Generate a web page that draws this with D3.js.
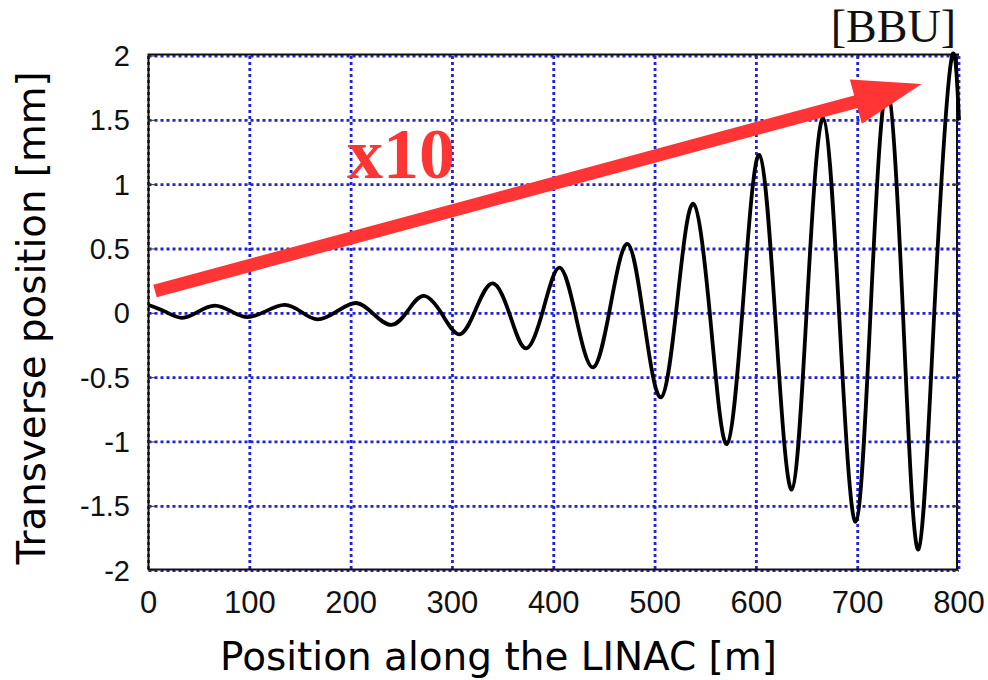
<!DOCTYPE html>
<html>
<head>
<meta charset="utf-8">
<script src="https://cdn.jsdelivr.net/npm/d3@7"></script>
<style>
  html, body { margin: 0; padding: 0; background: #fff; }
  svg { display: block; }
</style>
</head>
<body>
<svg id="chart" width="988" height="680"></svg>
<script>
// ---- data ----
const xTicks = [0, 100, 200, 300, 400, 500, 600, 700, 800];
const yTicks = [-2, -1.5, -1, -0.5, 0, 0.5, 1, 1.5, 2];
const yTickLabels = ["-2", "-1.5", "-1", "-0.5", "0", "0.5", "1", "1.5", "2"];
const xTickLabels = ["0", "100", "200", "300", "400", "500", "600", "700", "800"];

const posX = [0, 16, 33, 49, 65.5, 82, 98, 116, 134.5, 151, 167, 186, 205, 222, 240, 256,
              272, 290, 307, 323, 340, 357, 373, 390, 406, 422, 439, 456, 473, 489, 506, 522,
              538, 555, 571, 587, 603, 619, 635, 650, 666, 682, 698, 713, 729, 745, 760, 776,
              792, 800];
const posY = [0.065, 0.015, -0.035, 0.012, 0.06, 0.014, -0.03, 0.017, 0.065, 0.01, -0.047, 0.015,
              0.08, -0.005, -0.09, 0.02, 0.135, -0.01, -0.163, 0.03, 0.233, -0.02, -0.272, 0.04,
              0.355, -0.03, -0.42, 0.06, 0.539, -0.05, -0.653, 0.1, 0.85, -0.08, -1.016, 0.1,
              1.231, -0.07, -1.37, 0.07, 1.516, -0.05, -1.62, 0.06, 1.74, -0.05, -1.835, 0.07,
              1.95, 1.5];

const arrowStart = [6.4, 0.173];
const arrowTip = [763, 1.783];
const arrowLabel = "x10";
const arrowLabelPos = [196, 1.05];
const cornerLabel = "[BBU]";
const xTitle = "Position along the LINAC [m]";
const yTitle = "Transverse position [mm]";

// ---- layout ----
const svg = d3.select("#chart");
const x = d3.scaleLinear().domain([0, 800]).range([148.5, 959]);
const y = d3.scaleLinear().domain([-2, 2]).range([570.6, 56]);
const gridColor = "#2222dd";

// grid
const grid = svg.append("g");
grid.selectAll("line.v").data(xTicks).join("line")
  .attr("x1", d => x(d)).attr("x2", d => x(d))
  .attr("y1", y(2)).attr("y2", y(-2))
  .attr("stroke", gridColor).attr("stroke-width", 2.8)
  .attr("stroke-dasharray", "3,3");
grid.selectAll("line.h").data(yTicks).join("line")
  .attr("y1", d => y(d)).attr("y2", d => y(d))
  .attr("x1", x(0)).attr("x2", x(800))
  .attr("stroke", gridColor).attr("stroke-width", 2.8)
  .attr("stroke-dasharray", "3,3");

// frame
svg.append("path")
  .attr("d", `M${x(800)},${y(2)-1.5} H${x(0)} V${y(-2)-1} H${x(800)-2} V${y(2)-1.5}`)
  .attr("fill", "none").attr("stroke", "#111").attr("stroke-width", 2);

// small inner ticks
svg.append("g").selectAll("line").data(yTicks).join("line")
  .attr("x1", x(0)).attr("x2", x(0) + 7).attr("y1", d => y(d)).attr("y2", d => y(d))
  .attr("stroke", "#333").attr("stroke-width", 1);
svg.append("g").selectAll("line").data(yTicks).join("line")
  .attr("x1", x(800) - 7).attr("x2", x(800)).attr("y1", d => y(d)).attr("y2", d => y(d))
  .attr("stroke", "#333").attr("stroke-width", 1);

// tick labels
svg.append("g").selectAll("text").data(xTicks).join("text")
  .attr("x", d => x(d)).attr("y", 612.5)
  .attr("text-anchor", "middle")
  .attr("font-family", "Liberation Sans, Arial, sans-serif")
  .attr("font-size", 31).attr("fill", "#111")
  .text((d, i) => xTickLabels[i]);
svg.append("g").selectAll("text").data(yTicks).join("text")
  .attr("x", 130).attr("y", d => y(d))
  .attr("dy", "0.35em")
  .attr("text-anchor", "end")
  .attr("font-family", "Liberation Sans, Arial, sans-serif")
  .attr("font-size", 29).attr("fill", "#111")
  .text((d, i) => yTickLabels[i]);

// titles, fitted to the measured widths
function fitText(sel, target, start) {
  sel.attr("font-size", start);
  const len = sel.node().getComputedTextLength();
  sel.attr("font-size", start * target / len);
}
const xt = svg.append("text")
  .attr("x", 498.5).attr("y", 670).attr("text-anchor", "middle")
  .attr("font-family", "DejaVu Sans, sans-serif").attr("fill", "#000")
  .text(xTitle);
fitText(xt, 557, 36);
const yt = svg.append("text")
  .attr("transform", "translate(45,318) rotate(-90)").attr("text-anchor", "middle")
  .attr("font-family", "DejaVu Sans, sans-serif").attr("fill", "#000")
  .text(yTitle);
fitText(yt, 493, 36);

// curve
const line = d3.line()
  .x(d => x(d[0])).y(d => y(d[1]))
  .curve(d3.curveNatural);
svg.append("path")
  .datum(posX.map((v, i) => [v, posY[i]]))
  .attr("d", line)
  .attr("fill", "none").attr("stroke", "#000").attr("stroke-width", 3.8)
  .attr("stroke-linejoin", "round");

// red arrow
(function () {
  const sx = x(arrowStart[0]), sy = y(arrowStart[1]);
  const tx = x(arrowTip[0]), ty = y(arrowTip[1]);
  const dx = tx - sx, dy = ty - sy, L = Math.hypot(dx, dy);
  const ux = dx / L, uy = dy / L, nx = -uy, ny = ux;
  const shaftW = 13, headL = 68, headW = 46;
  const bx = tx - ux * headL, by = ty - uy * headL;
  const pts = [
    [sx + nx * shaftW / 2, sy + ny * shaftW / 2],
    [bx + nx * shaftW / 2, by + ny * shaftW / 2],
    [bx + nx * headW / 2, by + ny * headW / 2],
    [tx, ty],
    [bx - nx * headW / 2, by - ny * headW / 2],
    [bx - nx * shaftW / 2, by - ny * shaftW / 2],
    [sx - nx * shaftW / 2, sy - ny * shaftW / 2]
  ];
  svg.append("polygon")
    .attr("points", pts.map(p => p.join(",")).join(" "))
    .attr("fill", "#ff3434");
})();

svg.append("text")
  .attr("x", x(arrowLabelPos[0])).attr("y", y(arrowLabelPos[1]))
  .attr("font-family", "Liberation Serif, Times New Roman, serif")
  .attr("font-weight", "bold").attr("font-size", 72).attr("fill", "#ff3434")
  .text(arrowLabel);

svg.append("text")
  .attr("x", 956).attr("y", 42).attr("text-anchor", "end")
  .attr("font-family", "Liberation Serif, Times New Roman, serif")
  .attr("font-size", 46).attr("fill", "#111")
  .text(cornerLabel);
</script>
</body>
</html>
